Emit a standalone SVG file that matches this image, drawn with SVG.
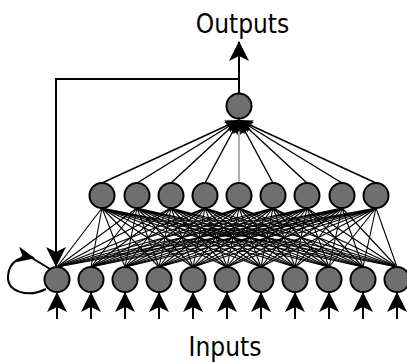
<svg xmlns="http://www.w3.org/2000/svg" width="407" height="363" viewBox="0 0 407 363">
<defs>
<marker id="big" markerUnits="userSpaceOnUse" viewBox="0 0 20 20" refX="19" refY="10" markerWidth="20" markerHeight="20" orient="auto">
<path d="M0 0L20 10L0 20L5 10z" fill="#000"/>
</marker>
<marker id="mid" markerUnits="userSpaceOnUse" viewBox="0 0 18 16" refX="17" refY="8" markerWidth="18" markerHeight="16" orient="auto">
<path d="M0 0L18 8L0 16L5 8z" fill="#000"/>
</marker>
<marker id="sm" markerUnits="userSpaceOnUse" viewBox="0 0 14 12" refX="14" refY="6" markerWidth="14" markerHeight="12" orient="auto">
<path d="M0 0L14 6L0 12L3 6z" fill="#000"/>
</marker>
</defs>
<style>
.node{fill:#6f6f6f;stroke:#000;stroke-width:2}
.mesh{fill:none;stroke:#000;stroke-width:1.1}
.conn{fill:none;stroke:#000;stroke-width:1.4}
.thick{fill:none;stroke:#000;stroke-width:2}
.lbl{font-family:"DejaVu Sans Condensed","DejaVu Sans",sans-serif;font-size:26px;fill:#000;text-anchor:middle}
</style>
<g id="connectors">
<path class="mesh" d="M102 208L57 267M102 208L91 267M102 208L125 267M102 208L159 267M102 208L193 267M102 208L227 267M102 208L261 267M102 208L295 267M102 208L329 267M102 208L363 267M102 208L397 267"/>
<path class="mesh" d="M137 208L57 267M137 208L91 267M137 208L125 267M137 208L159 267M137 208L193 267M137 208L227 267M137 208L261 267M137 208L295 267M137 208L329 267M137 208L363 267M137 208L397 267"/>
<path class="mesh" d="M171 208L57 267M171 208L91 267M171 208L125 267M171 208L159 267M171 208L193 267M171 208L227 267M171 208L261 267M171 208L295 267M171 208L329 267M171 208L363 267M171 208L397 267"/>
<path class="mesh" d="M205 208L57 267M205 208L91 267M205 208L125 267M205 208L159 267M205 208L193 267M205 208L227 267M205 208L261 267M205 208L295 267M205 208L329 267M205 208L363 267M205 208L397 267"/>
<path class="mesh" d="M239 208L57 267M239 208L91 267M239 208L125 267M239 208L159 267M239 208L193 267M239 208L227 267M239 208L261 267M239 208L295 267M239 208L329 267M239 208L363 267M239 208L397 267"/>
<path class="mesh" d="M273 208L57 267M273 208L91 267M273 208L125 267M273 208L159 267M273 208L193 267M273 208L227 267M273 208L261 267M273 208L295 267M273 208L329 267M273 208L363 267M273 208L397 267"/>
<path class="mesh" d="M307 208L57 267M307 208L91 267M307 208L125 267M307 208L159 267M307 208L193 267M307 208L227 267M307 208L261 267M307 208L295 267M307 208L329 267M307 208L363 267M307 208L397 267"/>
<path class="mesh" d="M342 208L57 267M342 208L91 267M342 208L125 267M342 208L159 267M342 208L193 267M342 208L227 267M342 208L261 267M342 208L295 267M342 208L329 267M342 208L363 267M342 208L397 267"/>
<path class="mesh" d="M376 208L57 267M376 208L91 267M376 208L125 267M376 208L159 267M376 208L193 267M376 208L227 267M376 208L261 267M376 208L295 267M376 208L329 267M376 208L363 267M376 208L397 267"/>
<line class="conn" x1="102" y1="183" x2="239" y2="120" marker-end="url(#sm)"/>
<line class="conn" x1="137" y1="183" x2="239" y2="120" marker-end="url(#sm)"/>
<line class="conn" x1="171" y1="183" x2="239" y2="120" marker-end="url(#sm)"/>
<line class="conn" x1="205" y1="183" x2="239" y2="120" marker-end="url(#sm)"/>
<line class="conn" x1="239" y1="183" x2="239" y2="120" style="stroke:#8a8a8a" marker-end="url(#sm)"/>
<line class="conn" x1="273" y1="183" x2="239" y2="120" marker-end="url(#sm)"/>
<line class="conn" x1="307" y1="183" x2="239" y2="120" marker-end="url(#sm)"/>
<line class="conn" x1="342" y1="183" x2="239" y2="120" marker-end="url(#sm)"/>
<line class="conn" x1="376" y1="183" x2="239" y2="120" marker-end="url(#sm)"/>
<line class="thick" x1="239" y1="93" x2="239" y2="42" marker-end="url(#big)"/>
<path class="thick" d="M239 79H56V266" marker-end="url(#big)"/>
<path class="thick" d="M46 289C28 298 7 292 8 276C9 262 20 255 34 258" marker-end="url(#mid)"/>
<path class="thick" d="M32 258L50 269"/>
<line class="thick" x1="57" y1="319" x2="57" y2="293" marker-end="url(#big)"/>
<line class="thick" x1="91" y1="319" x2="91" y2="293" marker-end="url(#big)"/>
<line class="thick" x1="125" y1="319" x2="125" y2="293" marker-end="url(#big)"/>
<line class="thick" x1="159" y1="319" x2="159" y2="293" marker-end="url(#big)"/>
<line class="thick" x1="193" y1="319" x2="193" y2="293" marker-end="url(#big)"/>
<line class="thick" x1="227" y1="319" x2="227" y2="293" marker-end="url(#big)"/>
<line class="thick" x1="261" y1="319" x2="261" y2="293" marker-end="url(#big)"/>
<line class="thick" x1="295" y1="319" x2="295" y2="293" marker-end="url(#big)"/>
<line class="thick" x1="329" y1="319" x2="329" y2="293" marker-end="url(#big)"/>
<line class="thick" x1="363" y1="319" x2="363" y2="293" marker-end="url(#big)"/>
<line class="thick" x1="397" y1="319" x2="397" y2="293" marker-end="url(#big)"/>
</g>
<g id="output"><circle class="node" cx="239" cy="106" r="12.5"/></g>
<g id="hidden1"><circle class="node" cx="102" cy="195.5" r="12.5"/></g>
<g id="hidden2"><circle class="node" cx="137" cy="195.5" r="12.5"/></g>
<g id="hidden3"><circle class="node" cx="171" cy="195.5" r="12.5"/></g>
<g id="hidden4"><circle class="node" cx="205" cy="195.5" r="12.5"/></g>
<g id="hidden5"><circle class="node" cx="239" cy="195.5" r="12.5"/></g>
<g id="hidden6"><circle class="node" cx="273" cy="195.5" r="12.5"/></g>
<g id="hidden7"><circle class="node" cx="307" cy="195.5" r="12.5"/></g>
<g id="hidden8"><circle class="node" cx="342" cy="195.5" r="12.5"/></g>
<g id="hidden9"><circle class="node" cx="376" cy="195.5" r="12.5"/></g>
<g id="input1"><circle class="node" cx="57" cy="279.5" r="12.5"/></g>
<g id="input2"><circle class="node" cx="91" cy="279.5" r="12.5"/></g>
<g id="input3"><circle class="node" cx="125" cy="279.5" r="12.5"/></g>
<g id="input4"><circle class="node" cx="159" cy="279.5" r="12.5"/></g>
<g id="input5"><circle class="node" cx="193" cy="279.5" r="12.5"/></g>
<g id="input6"><circle class="node" cx="227" cy="279.5" r="12.5"/></g>
<g id="input7"><circle class="node" cx="261" cy="279.5" r="12.5"/></g>
<g id="input8"><circle class="node" cx="295" cy="279.5" r="12.5"/></g>
<g id="input9"><circle class="node" cx="329" cy="279.5" r="12.5"/></g>
<g id="input10"><circle class="node" cx="363" cy="279.5" r="12.5"/></g>
<g id="input11"><circle class="node" cx="397" cy="279.5" r="12.5"/></g>
<g id="labels">
<text class="lbl" x="242.5" y="33">Outputs</text>
<text class="lbl" x="225" y="356">Inputs</text>
</g>
</svg>
